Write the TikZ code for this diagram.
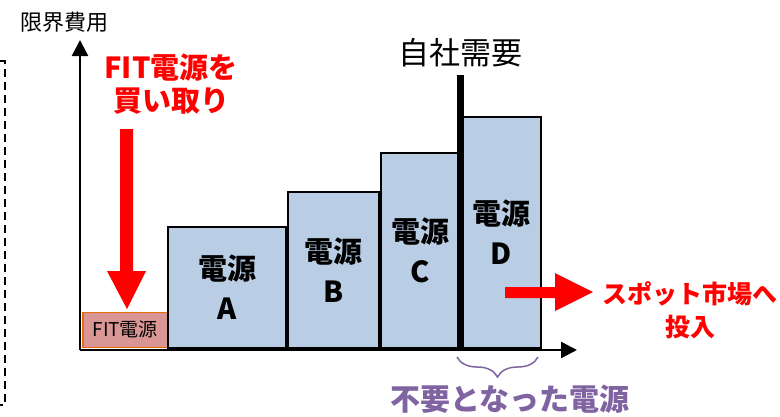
\documentclass[tikz,border=0pt]{standalone}
\usepackage{fontspec}
\newfontfamily\cjk{Noto Sans CJK JP}
\usetikzlibrary{decorations.pathreplacing,arrows.meta}
\definecolor{boxblue}{HTML}{B9CDE5}
\definecolor{fitfill}{HTML}{DA9694}
\definecolor{fitline}{HTML}{E46C0A}
\definecolor{purp}{HTML}{8064A2}
\definecolor{myred}{HTML}{FF0000}
\tikzset{
  srcbox/.style={draw=black, line width=2pt, fill=boxblue, anchor=south west, inner sep=0pt, align=center,
    font=\cjk\bfseries\fontsize{29}{40}\selectfont},
  fitbox/.style={draw=fitline, line width=1.5pt, fill=fitfill, anchor=south west, inner sep=0pt,
    font=\cjk\fontsize{19}{22}\selectfont, minimum width=85pt, minimum height=35pt},
  axis/.style={line width=2.5pt, -{Triangle[width=16pt,length=16pt]}},
  redtext/.style={text=myred, font=\cjk\bfseries\fontsize{25}{33}\selectfont, align=center},
  plain/.style={font=\cjk\fontsize{22}{24}\selectfont}
}
\begin{document}
\begin{tikzpicture}[x=1pt,y=-1pt]
\useasboundingbox (0,0) rectangle (780,416);
% dashed frame fragment
\draw[line width=1.6pt, dash pattern=on 8pt off 5pt] (0,61) -- (5,61) -- (5,405) -- (0,405);
% axes
\coordinate (O) at (80,350);
\coordinate (Ytip) at (80,40);
\coordinate (Xtip) at (577,350);
\draw[axis] (O) -- (Ytip);
\draw[axis] (O) -- (Xtip);
\node[plain] (ylab) at (64,22) {限界費用};
% FIT source
\node[fitbox] (fit) at (82,348) {FIT電源};
% source boxes
\node[srcbox, minimum width=118pt, minimum height=121pt] (A) at (167,349) {電源\\A};
\node[srcbox, minimum width=91pt, minimum height=156pt] (B) at (287,349) {電源\\B};
\node[srcbox, minimum width=78pt, minimum height=195pt] (C) at (380,349) {電源\\C};
\node[srcbox, minimum width=80pt, minimum height=231pt] (D) at (460,349) {電源\\D};
% demand line
\coordinate (dtop) at (460,75);
\coordinate (dbot) at (460,349);
\draw[line width=7pt] (dtop) -- (dbot);
\node[font=\cjk\fontsize{31}{34}\selectfont] (dem) at (460,53) {自社需要};
% FIT purchase label and arrow
\node[redtext, font=\cjk\bfseries\fontsize{29}{33}\selectfont] (buy) at (171,84) {FIT電源を\\買い取り};
\fill[myred] (120,129) -- (133,129) -- (133,271) -- (146,271) -- (127,309) -- (107,271) -- (120,271) -- cycle;
% spot market arrow and label
\fill[myred] (505,287) -- (555,287) -- (555,273) -- (593,292) -- (555,311) -- (555,298) -- (505,298) -- cycle;
\node[redtext] (spot) at (690,310) {スポット市場へ\\投入};
% brace
\draw[purp, line width=1.5pt, decorate, decoration={brace, amplitude=20pt, mirror}] (457,357) -- (538,357);
\node[text=purp, font=\cjk\bfseries\fontsize{30}{32}\selectfont] (unneeded) at (510,399) {不要となった電源};
\end{tikzpicture}
\end{document}
